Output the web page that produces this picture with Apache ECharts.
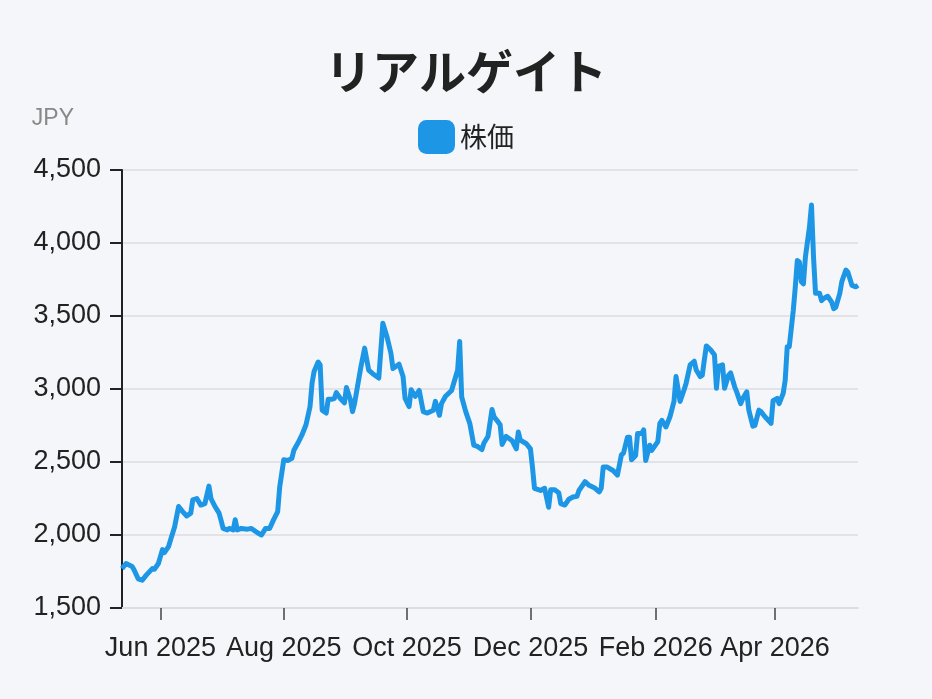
<!DOCTYPE html>
<html>
<head>
<meta charset="utf-8">
<script src="https://cdn.jsdelivr.net/npm/echarts@6/dist/echarts.min.js"></script>
<style>
  html, body { margin: 0; padding: 0; background: #f5f6fa; }
  #chart { width: 932px; height: 699px; }
</style>
</head>
<body>
<div id="chart"></div>
<script>
const title = 'リアルゲイト';
const seriesName = '株価';
const yTicks = [1500, 2000, 2500, 3000, 3500, 4000, 4500];
const xTickDates = ['2025-06-01', '2025-08-01', '2025-10-01', '2025-12-01', '2026-02-01', '2026-04-01'];
const xTickLabels = ['Jun 2025', 'Aug 2025', 'Oct 2025', 'Dec 2025', 'Feb 2026', 'Apr 2026'];

const dates = [
  '2025-05-13', '2025-05-15', '2025-05-18', '2025-05-19', '2025-05-21', '2025-05-23', '2025-05-25', '2025-05-28',
  '2025-05-29', '2025-05-31', '2025-06-02', '2025-06-03', '2025-06-05', '2025-06-06', '2025-06-08', '2025-06-10',
  '2025-06-12', '2025-06-14', '2025-06-16', '2025-06-17', '2025-06-19', '2025-06-21', '2025-06-23', '2025-06-25',
  '2025-06-26', '2025-06-28', '2025-06-30', '2025-07-01', '2025-07-02', '2025-07-04', '2025-07-05', '2025-07-07',
  '2025-07-08', '2025-07-09', '2025-07-11', '2025-07-14', '2025-07-16', '2025-07-19', '2025-07-21', '2025-07-23',
  '2025-07-25', '2025-07-27', '2025-07-29', '2025-07-30', '2025-08-01', '2025-08-03', '2025-08-05', '2025-08-06',
  '2025-08-08', '2025-08-10', '2025-08-12', '2025-08-14', '2025-08-15', '2025-08-16', '2025-08-18', '2025-08-19',
  '2025-08-20', '2025-08-22', '2025-08-23', '2025-08-25', '2025-08-26', '2025-08-27', '2025-08-29', '2025-08-31',
  '2025-09-01', '2025-09-03', '2025-09-04', '2025-09-05', '2025-09-08', '2025-09-10', '2025-09-12', '2025-09-14',
  '2025-09-17', '2025-09-19', '2025-09-21', '2025-09-23', '2025-09-24', '2025-09-27', '2025-09-29', '2025-09-30',
  '2025-10-02', '2025-10-03', '2025-10-05', '2025-10-07', '2025-10-09', '2025-10-11', '2025-10-14', '2025-10-15',
  '2025-10-17', '2025-10-18', '2025-10-20', '2025-10-23', '2025-10-26', '2025-10-27', '2025-10-28', '2025-10-30',
  '2025-11-01', '2025-11-03', '2025-11-05', '2025-11-07', '2025-11-08', '2025-11-10', '2025-11-12', '2025-11-13',
  '2025-11-15', '2025-11-16', '2025-11-17', '2025-11-19', '2025-11-22', '2025-11-24', '2025-11-25', '2025-11-26',
  '2025-11-29', '2025-12-01', '2025-12-02', '2025-12-03', '2025-12-06', '2025-12-08', '2025-12-10', '2025-12-11',
  '2025-12-13', '2025-12-15', '2025-12-16', '2025-12-18', '2025-12-20', '2025-12-22', '2025-12-24', '2025-12-25',
  '2025-12-28', '2025-12-30', '2026-01-02', '2026-01-04', '2026-01-05', '2026-01-06', '2026-01-08', '2026-01-11',
  '2026-01-13', '2026-01-15', '2026-01-16', '2026-01-18', '2026-01-19', '2026-01-20', '2026-01-22', '2026-01-23',
  '2026-01-25', '2026-01-26', '2026-01-27', '2026-01-29', '2026-01-30', '2026-02-02', '2026-02-03', '2026-02-04',
  '2026-02-06', '2026-02-08', '2026-02-10', '2026-02-11', '2026-02-13', '2026-02-15', '2026-02-16', '2026-02-18',
  '2026-02-20', '2026-02-21', '2026-02-23', '2026-02-24', '2026-02-25', '2026-02-26', '2026-02-28', '2026-03-02',
  '2026-03-03', '2026-03-04', '2026-03-06', '2026-03-07', '2026-03-09', '2026-03-10', '2026-03-12', '2026-03-13',
  '2026-03-15', '2026-03-16', '2026-03-18', '2026-03-19', '2026-03-21', '2026-03-22', '2026-03-24', '2026-03-25',
  '2026-03-27', '2026-03-30', '2026-03-31', '2026-04-02', '2026-04-03', '2026-04-05', '2026-04-06', '2026-04-07',
  '2026-04-08', '2026-04-10', '2026-04-11', '2026-04-12', '2026-04-13', '2026-04-14', '2026-04-15', '2026-04-16',
  '2026-04-18', '2026-04-19', '2026-04-20', '2026-04-21', '2026-04-23', '2026-04-24', '2026-04-25', '2026-04-27',
  '2026-04-29', '2026-04-30', '2026-05-01', '2026-05-03', '2026-05-04', '2026-05-06', '2026-05-07', '2026-05-09',
  '2026-05-11', '2026-05-12'
];

const prices = [
  1770, 1805, 1785, 1760, 1700, 1690, 1725, 1770,
  1765, 1805, 1900, 1880, 1920, 1965, 2055, 2195,
  2160, 2130, 2150, 2240, 2250, 2205, 2215, 2335,
  2250, 2195, 2150, 2100, 2045, 2035, 2045, 2035,
  2105, 2035, 2045, 2040, 2045, 2015, 2000, 2045,
  2045, 2105, 2160, 2330, 2515, 2510, 2525, 2580,
  2630, 2685, 2755, 2880, 3040, 3120, 3185, 3165,
  2855, 2835, 2930, 2930, 2935, 2975, 2935, 2905,
  3010, 2925, 2845, 2900, 3140, 3280, 3130, 3105,
  3075, 3450, 3360, 3245, 3140, 3170, 3085, 2935,
  2880, 2995, 2950, 2990, 2845, 2835, 2855, 2915,
  2820, 2900, 2950, 2990, 3130, 3325, 2945, 2845,
  2765, 2615, 2605, 2585, 2630, 2675, 2860, 2810,
  2775, 2755, 2620, 2675, 2645, 2590, 2705, 2650,
  2625, 2590, 2465, 2320, 2305, 2320, 2190, 2310,
  2310, 2290, 2215, 2205, 2245, 2260, 2265, 2305,
  2365, 2340, 2320, 2295, 2320, 2465, 2465, 2440,
  2410, 2550, 2560, 2670, 2670, 2515, 2545, 2695,
  2695, 2720, 2510, 2615, 2580, 2640, 2765, 2785,
  2740, 2810, 2915, 3085, 2915, 2995, 3040, 3165,
  3190, 3130, 3085, 3095, 3200, 3295, 3270, 3235,
  3005, 3155, 3165, 3005, 3095, 3110, 3015, 2980,
  2900, 2935, 2980, 2855, 2745, 2750, 2855, 2845,
  2810, 2765, 2920, 2935, 2900, 2970, 3060, 3290,
  3290, 3540, 3700, 3880, 3870, 3735, 3720, 3905,
  4110, 4260, 3905, 3655, 3655, 3605, 3620, 3635,
  3595, 3550, 3560, 3655, 3735, 3815, 3800, 3710,
  3700, 3710
];

const chartDom = document.getElementById('chart');
const myChart = echarts.init(chartDom);

const latin = "'Liberation Sans', 'Noto Sans CJK JP', sans-serif";
const cjk = "'Noto Sans CJK JP', sans-serif";
const toTime = (d) => Date.parse(d + 'T00:00:00Z');
const tickTimes = xTickDates.map(toTime);
const seriesData = dates.map((d, i) => [toTime(d), prices[i]]);

const option = {
  animation: false,
  backgroundColor: '#f5f6fa',
  textStyle: { fontFamily: latin },
  title: {
    text: title,
    left: 'center',
    top: 43,
    textStyle: {
      fontSize: 47,
      fontWeight: 'bold',
      color: '#222222',
      fontFamily: cjk,
    },
  },
  legend: {
    top: 115,
    left: 'center',
    icon: 'roundRect',
    itemWidth: 37,
    itemHeight: 34,
    itemGap: 14,
    textStyle: {
      fontSize: 27,
      color: '#222222',
      fontFamily: cjk,
    },
    data: [seriesName],
  },
  grid: {
    left: 122,
    right: 74,
    top: 170,
    bottom: 91,
    containLabel: false,
  },
  xAxis: {
    type: 'value',
    min: 'dataMin',
    max: 'dataMax',
    axisLine: { show: true, onZero: false, lineStyle: { color: '#dcdde1', width: 2 } },
    axisTick: {
      show: true,
      length: 12,
      customValues: tickTimes,
      lineStyle: { color: '#444444', width: 1.5 },
    },
    splitLine: { show: false },
    axisLabel: {
      customValues: tickTimes,
      formatter: (v) => xTickLabels[tickTimes.indexOf(v)] || '',
      fontSize: 27,
      color: '#222222',
      margin: 27,
      hideOverlap: false,
    },
  },
  yAxis: {
    type: 'value',
    name: 'JPY',
    nameLocation: 'end',
    nameGap: 40,
    nameTextStyle: { fontSize: 23, color: '#888888', align: 'right', padding: [0, 48, 0, 0] },
    min: yTicks[0],
    max: yTicks[yTicks.length - 1],
    interval: 500,
    axisLine: { show: true, lineStyle: { color: '#222222', width: 2 } },
    axisTick: { show: true, length: 12, lineStyle: { color: '#222222', width: 2 } },
    splitLine: { show: true, lineStyle: { color: '#dcdde1', width: 1.5 } },
    axisLabel: {
      fontSize: 27,
      color: '#222222',
      margin: 21,
      formatter: (v) => v.toLocaleString('en-US'),
    },
  },
  series: [
    {
      name: seriesName,
      type: 'line',
      data: seriesData,
      showSymbol: false,
      symbol: 'none',
      lineStyle: { color: '#1e96e6', width: 5, join: 'round' },
      itemStyle: { color: '#1e96e6' },
    },
  ],
};

myChart.setOption(option);
</script>
</body>
</html>
